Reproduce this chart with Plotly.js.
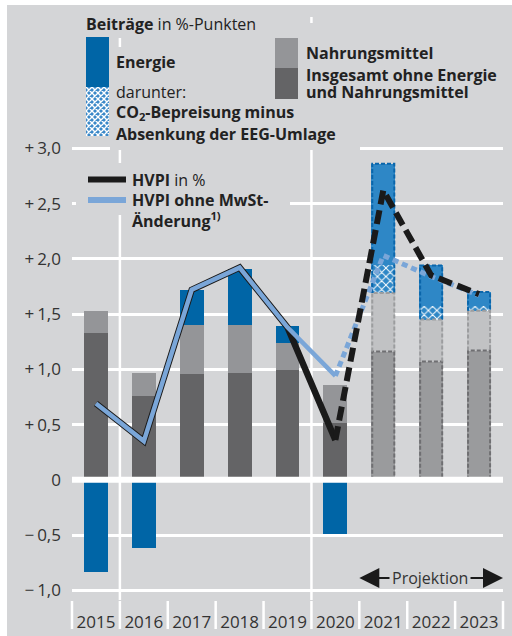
<!DOCTYPE html>
<html>
<head>
<meta charset="utf-8">
<script src="https://cdn.plot.ly/plotly-3.0.1.min.js"></script>
<style>
  html, body { margin: 0; padding: 0; background: #fff; }
  #chart { width: 512px; height: 636px; }
</style>
</head>
<body>
<div id="chart"></div>
<script>
// Beiträge zur HVPI-Rate in %-Punkten, ab 2021 Projektion
const years = ['2015', '2016', '2017', '2018', '2019', '2020', '2021', '2022', '2023'];
const kern = [1.33, 0.76, 0.96, 0.97, 0.99, 0.51, 1.16, 1.07, 1.17];      // Insgesamt ohne Energie und Nahrungsmittel
const nahrung = [0.20, 0.21, 0.44, 0.43, 0.25, 0.35, 0.53, 0.38, 0.36];
const energie = [-0.83, -0.62, 0.32, 0.51, 0.15, -0.49, 1.17, 0.49, 0.17];
const co2 = [0, 0, 0, 0, 0, 0, 0.25, 0.12, 0.04];                        // darunter: CO2-Bepreisung minus EEG
const hvpi = [0.69, 0.35, 1.72, 1.92, 1.38, 0.36, 2.62, 1.85, 1.68];
const hvpiOhneMwSt = [0.69, 0.35, 1.72, 1.92, 1.38, 0.94, 2.03, 1.84, 1.67];
const firstProj = 6;

const yTicks = [-1, -0.5, 0, 0.5, 1, 1.5, 2, 2.5, 3];
const yTickText = ['\u2212\u20091,0', '\u2212\u20090,5', '0', '+\u20090,5', '+\u20091,0', '+\u20091,5', '+\u20092,0', '+\u20092,5', '+\u20093,0'];

const BG = '#d4d5d7';
const FONT = 'Open Sans, sans-serif';
const W = 512, H = 636, ML = 72, MR = 9, MT = 5, MB = 36;
const PW = W - ML - MR, PH = H - MT - MB;
const ZERO = 479.8, UNIT = 110.5, CAT = PW / years.length;

// pixel -> paper / data helpers for the decoration
const px = v => (v - ML) / PW;
const py = v => (H - MB - v) / PH;
const xv = v => (v - ML) / CAT - 0.5;
const yv = v => (ZERO - v) / UNIT;

const idx = years.map((_, i) => i);
const hist = idx.filter(i => i < firstProj);
const proj = idx.filter(i => i >= firstProj);
const hvIdx = idx.filter(i => i <= firstProj - 1);
const pvIdx = idx.filter(i => i >= firstProj - 1);
const pick = (arr, ids) => ids.map(i => arr[i]);
const rest = energie.map((e, i) => e - co2[i]);

function bar(ids, vals, color, extra) {
    return Object.assign({
        type: 'bar', x: ids, y: pick(vals, ids), width: 0.5,
        marker: { color, line: { width: 0 } }, hoverinfo: 'skip', showlegend: false
    }, extra || {});
}

// dashed outline for the projected bars
function outline(ids, lo, hi, color) {
    const x = [], y = [];
    ids.forEach(i => {
        const x0 = i - 0.23, x1 = i + 0.23;
        x.push(x0, x0, x1, x1, null);
        y.push(lo[i], hi[i], hi[i], lo[i], null);
    });
    return {
        type: 'scatter', mode: 'lines', x, y, hoverinfo: 'skip', showlegend: false,
        line: { color, width: 2, dash: '4px,2px' }
    };
}

const s1 = kern.map(k => k);
const s2 = kern.map((k, i) => k + nahrung[i]);
const s3 = s2.map((s, i) => s + energie[i]);
const zeros = kern.map(() => 0);

const BLUE = '#7aa6d8';

const traces = [
    bar(hist, kern, '#646466'),
    bar(hist, nahrung, '#949598'),
    bar(hist, energie, '#0065a6'),
    bar(proj, kern, '#9a9b9d'),
    bar(proj, nahrung, '#c1c2c4'),
    bar(proj, co2, '#2e87c6', {
        marker: {
            color: '#2e87c6', line: { width: 0 },
            pattern: { shape: 'x', fgcolor: '#ffffff', bgcolor: '#2e87c6', size: 6, solidity: 0.3 }
        }
    }),
    bar(proj, rest, '#2e87c6'),
    outline(proj, zeros, s1, '#6f6f72'),
    outline(proj, s1, s2, '#9c9d9f'),
    outline(proj, s2, s3, '#0a66ab'),
    { type: 'scatter', mode: 'lines', x: hvIdx, y: pick(hvpi, hvIdx), hoverinfo: 'skip', showlegend: false,
      line: { color: '#1a1a1a', width: 6.5 } },
    { type: 'scatter', mode: 'lines', x: hvIdx, y: pick(hvpiOhneMwSt, hvIdx), hoverinfo: 'skip', showlegend: false,
      line: { color: BLUE, width: 4.5 } },
    { type: 'scatter', mode: 'lines', x: pvIdx, y: pick(hvpiOhneMwSt, pvIdx), hoverinfo: 'skip', showlegend: false,
      line: { color: BLUE, width: 5, dash: '6px,4px' } },
    { type: 'scatter', mode: 'lines', x: pvIdx, y: pick(hvpi, pvIdx), hoverinfo: 'skip', showlegend: false,
      line: { color: '#1a1a1a', width: 6, dash: '14px,6px' } }
];

const shapes = [];
// white frame strips
shapes.push({ type: 'rect', xref: 'paper', yref: 'paper', x0: px(0), x1: px(W), y0: py(5), y1: py(0), fillcolor: '#fff', line: { width: 0 }, layer: 'above' });
shapes.push({ type: 'rect', xref: 'paper', yref: 'paper', x0: px(0), x1: px(7), y0: py(H), y1: py(0), fillcolor: '#fff', line: { width: 0 }, layer: 'above' });
// vertical white lines
[0.5, 4.5].forEach(x => shapes.push({ type: 'line', xref: 'x', yref: 'y', x0: x, x1: x, y0: yv(600), y1: yv(17),
    line: { color: '#fff', width: 2.5 }, layer: 'between' }));
// legend backgrounds hiding the grid
[[80, 272, 10, 38], [110, 360, 47, 150], [300, 503, 23, 100], [76, 290, 163, 215]].forEach(b => shapes.push({
    type: 'rect', xref: 'x', yref: 'y', x0: xv(b[0]), x1: xv(b[1]), y0: yv(b[3]), y1: yv(b[2]),
    fillcolor: BG, line: { width: 0 }, layer: 'between' }));
// zero line over the bars
shapes.push({ type: 'line', xref: 'paper', yref: 'y', x0: 0, x1: 1, y0: 0, y1: 0, line: { color: '#fff', width: 6 }, layer: 'above' });
// category boundary ticks below the axis
for (let i = 0; i <= years.length; i++) {
    shapes.push({ type: 'line', xref: 'paper', yref: 'paper', x0: i / years.length, x1: i / years.length,
        y0: py(601), y1: py(629), line: { color: '#fff', width: 2.5 }, layer: 'above' });
}
// legend swatches
const sw = (x0, x1, y0, y1, c) => shapes.push({ type: 'rect', xref: 'paper', yref: 'paper', x0: px(x0), x1: px(x1),
    y0: py(y1), y1: py(y0), fillcolor: c, line: { width: 0 }, layer: 'above' });
sw(86, 109, 37, 87, '#0065a6');
sw(275, 298, 38, 68, '#949598');
sw(275, 298, 68, 99, '#646466');
shapes.push({ type: 'line', xref: 'paper', yref: 'paper', x0: px(88), x1: px(126), y0: py(179.5), y1: py(179.5), line: { color: '#1a1a1a', width: 6 }, layer: 'above' });
shapes.push({ type: 'line', xref: 'paper', yref: 'paper', x0: px(88), x1: px(126), y0: py(200), y1: py(200), line: { color: BLUE, width: 6 }, layer: 'above' });

const hatchSvg = "<svg xmlns='http://www.w3.org/2000/svg' width='23' height='49'><defs><pattern id='p' width='6' height='6' patternUnits='userSpaceOnUse'><rect width='6' height='6' fill='#3a88c8'/><path d='M0,0L6,6M6,0L0,6M-1,5L1,7M5,-1L7,1' stroke='#fff' stroke-width='1.4'/></pattern></defs><rect width='23' height='49' fill='url(#p)'/></svg>";

function label(text, x, y, size, extra) {
    return Object.assign({
        text, xref: 'paper', yref: 'paper', x: px(x), y: py(y), xanchor: 'left', yanchor: 'middle', align: 'left',
        showarrow: false, font: { family: FONT, size: size || 16, color: '#222' }
    }, extra || {});
}

const annotations = [
    label('<b>Beiträge</b> in %-Punkten', 84, 24),
    label('<b>Energie</b>', 114, 62),
    label('darunter:', 114, 92),
    label('<b>CO<sub>2</sub>-Bepreisung minus</b>', 114, 112),
    label('<b>Absenkung der EEG-Umlage</b>', 114, 134),
    label('<b>Nahrungsmittel</b>', 304, 53),
    label('<b>Insgesamt ohne Energie</b>', 304, 75),
    label('<b>und Nahrungsmittel</b>', 304, 92),
    label('<b>HVPI</b> in %', 130, 180),
    label('<b>HVPI ohne MwSt-<br>Änderung<sup>1)</sup></b>', 130, 210),
    label('Projektion', 430, 578, 16, { xanchor: 'center', font: { family: FONT, size: 16, color: '#333' } }),
    { x: 5.5, y: yv(578), ax: xv(391), ay: yv(578), xref: 'x', yref: 'y', axref: 'x', ayref: 'y', text: '',
      showarrow: true, arrowhead: 2, arrowsize: 2, arrowwidth: 2, arrowcolor: '#1a1a1a', standoff: 0 },
    { x: 8.5, y: yv(578), ax: xv(469), ay: yv(578), xref: 'x', yref: 'y', axref: 'x', ayref: 'y', text: '',
      showarrow: true, arrowhead: 2, arrowsize: 2, arrowwidth: 2, arrowcolor: '#1a1a1a', standoff: 0 }
];

const layout = {
    width: W, height: H,
    margin: { l: ML, r: MR, t: MT, b: MB },
    paper_bgcolor: BG, plot_bgcolor: BG,
    barmode: 'relative', bargap: 0,
    showlegend: false,
    font: { family: FONT, color: '#333' },
    xaxis: {
        type: 'linear', range: [-0.5, years.length - 0.5],
        tickvals: idx, ticktext: years, ticks: '', showgrid: false, zeroline: false, showline: false,
        tickfont: { family: FONT, size: 17, color: '#333' }, ticklabelstandoff: 10
    },
    yaxis: {
        range: [yv(600), yv(5)], tickvals: yTicks, ticktext: yTickText,
        showgrid: true, gridcolor: '#fff', gridwidth: 3, zeroline: false, showline: false, ticks: '',
        tickfont: { family: FONT, size: 17, color: '#333' }, ticklabelstandoff: 10
    },
    shapes, annotations,
    images: [{
        source: 'data:image/svg+xml;charset=utf-8,' + encodeURIComponent(hatchSvg),
        xref: 'paper', yref: 'paper', x: px(86), y: py(87), sizex: px(109) - px(86), sizey: py(87) - py(136),
        xanchor: 'left', yanchor: 'top', sizing: 'stretch', layer: 'above'
    }]
};

Plotly.newPlot('chart', traces, layout, { staticPlot: true, displayModeBar: false });
</script>
</body>
</html>
